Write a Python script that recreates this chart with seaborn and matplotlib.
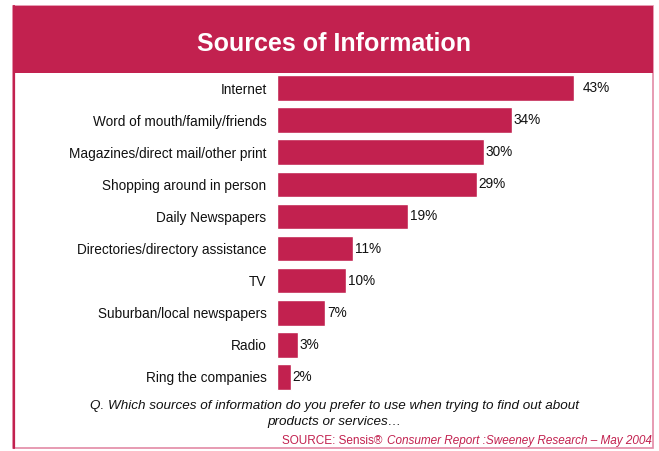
import matplotlib
matplotlib.use("Agg")
import matplotlib.pyplot as plt
from matplotlib.patches import Rectangle
import seaborn as sns
import pandas as pd

# Survey data
sources = [
    "Internet",
    "Word of mouth/family/friends",
    "Magazines/direct mail/other print",
    "Shopping around in person",
    "Daily Newspapers",
    "Directories/directory assistance",
    "TV",
    "Suburban/local newspapers",
    "Radio",
    "Ring the companies",
]
shares = [43, 34, 30, 29, 19, 11, 10, 7, 3, 2]

title = "Sources of Information"
question = ("Q. Which sources of information do you prefer to use when trying to find out about\n"
            "products or services\u2026")

CRIMSON = "#C2214F"
PINK = "#E38AA6"

sns.set_theme(style="white")
plt.rcParams["font.family"] = ["Liberation Sans", "DejaVu Sans"]

W, H = 659, 451
fig = plt.figure(figsize=(W / 100, H / 100), dpi=100)
fig.patch.set_facecolor("white")

def fx(px):
    return px / W

def fy(py):
    return 1 - py / H

# Outer frame
fig.patches.append(Rectangle((fx(12.5), fy(448)), fx(653) - fx(12.5), fy(6) - fy(448),
                             transform=fig.transFigure, facecolor="none",
                             edgecolor=PINK, linewidth=1.2, zorder=0))
fig.add_artist(plt.Line2D([fx(13.5), fx(13.5)], [fy(448), fy(6)],
                          transform=fig.transFigure, color=CRIMSON, linewidth=1.6))
# Header band
fig.patches.append(Rectangle((fx(12.5), fy(73)), fx(653) - fx(12.5), fy(6) - fy(73),
                             transform=fig.transFigure, facecolor=CRIMSON,
                             edgecolor="none", zorder=1))
fig.text(fx(334), fy(44), title, ha="center", va="center", color="white",
         fontsize=18, fontweight="bold", zorder=2)

# Bar chart area
ax = fig.add_axes([fx(277), fy(393), fx(650) - fx(277), fy(72) - fy(393)])
df = pd.DataFrame({"source": sources, "share": shares})
sns.barplot(data=df, x="share", y="source", orient="h", color=CRIMSON,
            saturation=1, width=0.8, ax=ax)
ax.set_xlim(0, (650 - 277) / 6.9)
ax.set_ylim(9.5, -0.5)
for s in ax.spines.values():
    s.set_visible(False)
ax.set_xticks([])
ax.set_xlabel("")
ax.set_ylabel("")
ax.tick_params(axis="y", length=0, pad=7.5, labelsize=9.8, labelcolor="#111111")
ax.set_facecolor("none")

for i, v in enumerate(shares):
    off = 1.3 if i == 0 else 0.25
    ax.text(v + off, i, f"{v}%", va="center", ha="left", fontsize=9.8, color="#111111")

# Footnotes
fig.text(fx(334), fy(414), question, ha="center", va="center", fontsize=9.7,
         style="italic", color="#111111", linespacing=1.4)
src_a = fig.text(fx(652), fy(441), "Consumer Report :Sweeney Research \u2013 May 2004",
                 ha="right", va="center", fontsize=8.5, style="italic", color=CRIMSON)
fig.canvas.draw()
bb = src_a.get_window_extent()
fig.text(bb.x0 / W - 0.002, fy(441), "SOURCE: Sensis\u00ae ", ha="right", va="center",
         fontsize=8.5, color=CRIMSON)

fig.savefig("out.png", dpi=100)
